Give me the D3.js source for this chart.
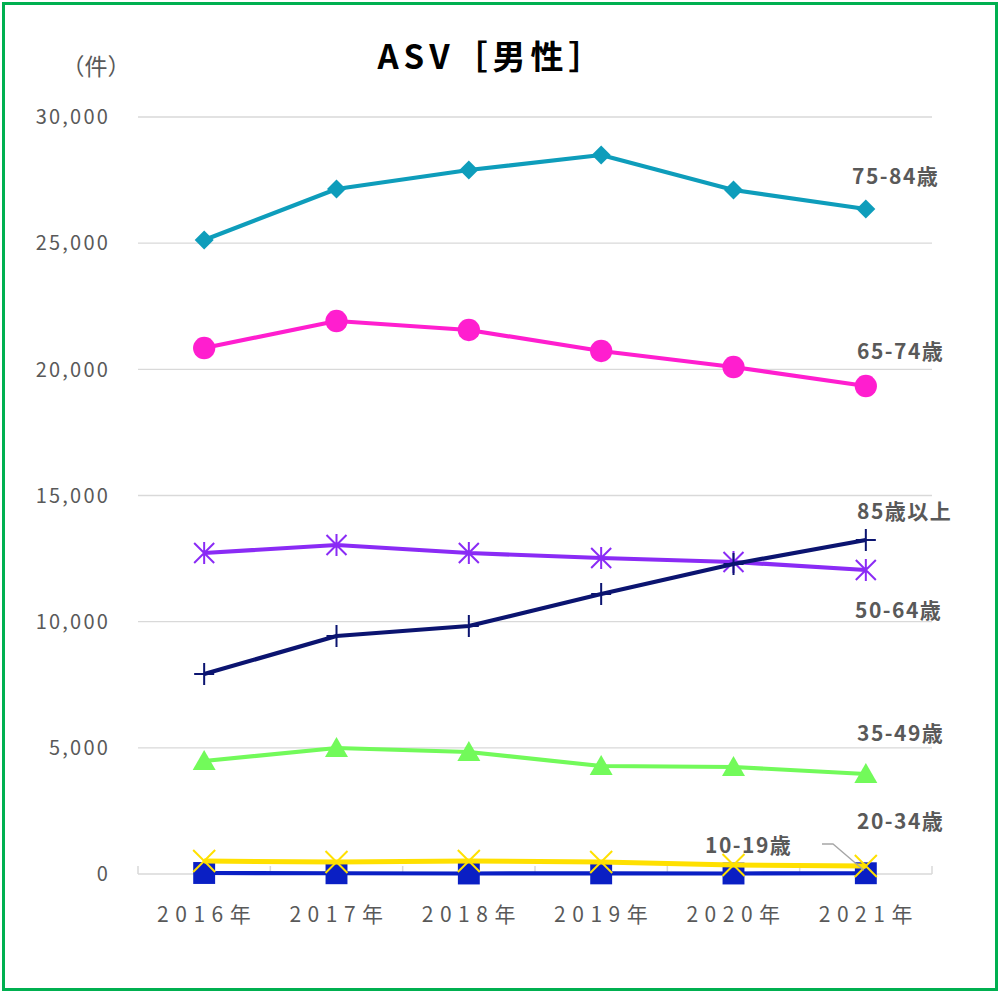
<!DOCTYPE html>
<html><head><meta charset="utf-8">
<script src="https://cdn.jsdelivr.net/npm/d3@7"></script>
<style>
html,body{margin:0;padding:0;background:#fff;}
svg text{font-family:"Noto Sans CJK JP","Noto Sans",sans-serif;}
</style></head>
<body>
<svg id="c" width="1000" height="993"></svg>
<script>
const years = ["2016年","2017年","2018年","2019年","2020年","2021年"];
const yTicks = [0,5000,10000,15000,20000,25000,30000];
const seriesNames = ["10-19歳","20-34歳","35-49歳","50-64歳","65-74歳","75-84歳","85歳以上"];
const v10_19 = [40,30,20,25,20,30];
const v20_34 = [515,475,515,475,357,317];
const v35_49 = [4478,4993,4835,4280,4240,3963];
const v50_64 = [12721,13038,12721,12523,12365,12048];
const v65_74 = [20845,21915,21559,20727,20092,19339];
const v75_84 = [25126,27147,27900,28494,27107,26354];
const v85 = [7926,9432,9828,11096,12285,13236];
const seriesValues = [v10_19,v20_34,v35_49,v50_64,v65_74,v75_84,v85];
const colors = ["#0A1FC4","#FFE000","#72FA5A","#8A2BF5","#FF1ECF","#0E9DBB","#0B1470"];
const markers = ["square","x","triangle","asterisk","circle","diamond","plus"];
const labelPos = [[705,845],[857,821],[857,733],[855,610],[857,351],[852,176],[857,511]];

const svg = d3.select("#c");
svg.append("rect").attr("x",3.5).attr("y",3.5).attr("width",993).attr("height",986)
  .attr("fill","#fff").attr("stroke","#00B050").attr("stroke-width",3);

const x = d3.scaleBand().domain(years).range([138,932]);
const y = d3.scaleLinear().domain([0,30000]).range([874,117]);
const cx = d => x(d)+x.bandwidth()/2;

svg.append("g").selectAll("line").data(yTicks.filter(t=>t>0)).join("line")
  .attr("x1",138).attr("x2",932).attr("y1",d=>y(d)).attr("y2",d=>y(d))
  .attr("stroke","#d9d9d9").attr("stroke-width",1.3);

svg.append("g").selectAll("text").data(yTicks).join("text")
  .attr("x",110).attr("y",d=>y(d)).attr("dy","0.36em").attr("text-anchor","end")
  .attr("font-size",20).attr("letter-spacing",2.2).attr("fill","#595959")
  .text(d=>d3.format(",")(d));

svg.append("line").attr("x1",138).attr("x2",932).attr("y1",y(0)).attr("y2",y(0))
  .attr("stroke","#d9d9d9").attr("stroke-width",1.5);
const bounds = years.map(d=>x(d)).concat([932]);
svg.append("g").selectAll("line").data(bounds).join("line")
  .attr("x1",d=>d).attr("x2",d=>d).attr("y1",y(0)).attr("y2",y(0)-8)
  .attr("stroke","#d9d9d9").attr("stroke-width",1.5);

svg.append("g").selectAll("text").data(years).join("text")
  .attr("x",d=>cx(d)+3).attr("y",922).attr("text-anchor","middle")
  .attr("font-size",21).attr("letter-spacing",6.5).attr("fill","#595959")
  .text(d=>d);

svg.append("text").attr("x",96).attr("y",75).attr("text-anchor","middle")
  .attr("font-size",23).attr("fill","#595959").text("（件）");
svg.append("text").attr("x",492).attr("y",69).attr("text-anchor","middle")
  .attr("font-size",33).attr("font-weight","bold").attr("letter-spacing",5).attr("fill","#000")
  .text("ASV［男性］");

function drawMarker(g, type, color, px, py){
  const t = `translate(${px},${py})`;
  if(type==="square"){
    g.append("path").attr("d",d3.symbol(d3.symbolSquare,480)()).attr("transform",t).attr("fill",color);
  } else if(type==="circle"){
    g.append("path").attr("d",d3.symbol(d3.symbolCircle,390)()).attr("transform",t).attr("fill",color);
  } else if(type==="diamond"){
    g.append("path").attr("d",d3.symbol(d3.symbolDiamond2,230)()).attr("transform",t).attr("fill",color);
  } else if(type==="triangle"){
    g.append("path").attr("d","M0,-11L11.5,9L-11.5,9Z").attr("transform",t).attr("fill",color);
  } else if(type==="x"){
    g.append("path").attr("d","M-11,-11L11,11M-11,11L11,-11").attr("transform",t)
      .attr("stroke",color).attr("stroke-width",2).attr("fill","none");
  } else if(type==="asterisk"){
    g.append("path").attr("d","M-10,-10L10,10M-10,10L10,-10M0,-11L0,11").attr("transform",t)
      .attr("stroke",color).attr("stroke-width",2).attr("fill","none");
  } else if(type==="plus"){
    g.append("path").attr("d","M-10,0L10,0M0,-11L0,11").attr("transform",t)
      .attr("stroke",color).attr("stroke-width",2).attr("fill","none");
  }
}

const line = d3.line().x((d,i)=>cx(years[i])).y(d=>y(d));
seriesValues.forEach((vals,si)=>{
  const g = svg.append("g");
  g.append("path").datum(vals).attr("d",line).attr("fill","none")
    .attr("stroke",colors[si]).attr("stroke-width",si===1?5:4.2).attr("stroke-linejoin","round");
  vals.forEach((v,i)=>drawMarker(g, markers[si], colors[si], cx(years[i]), y(v)));
});

svg.append("path").attr("d",`M822,844L833,844L${cx(years[5])-2},${y(v10_19[5])-3}`)
  .attr("stroke","#a6a6a6").attr("stroke-width",1.3).attr("fill","none");

svg.append("g").selectAll("text").data(seriesNames).join("text")
  .attr("x",(d,i)=>labelPos[i][0]).attr("y",(d,i)=>labelPos[i][1]).attr("dy","0.36em")
  .attr("font-size",21).attr("font-weight","bold").attr("letter-spacing",1.5).attr("fill","#595959")
  .text(d=>d);
</script>
</body></html>
